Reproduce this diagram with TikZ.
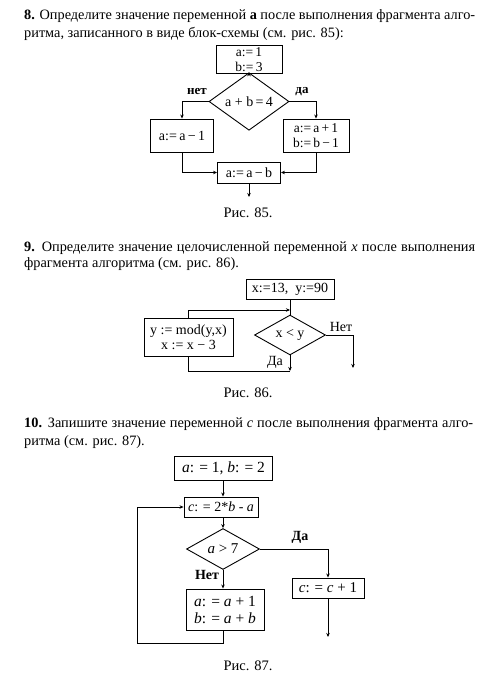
\documentclass[tikz,border=0pt]{standalone}
\usepackage{fontspec}
\setmainfont{Liberation Serif}
\usetikzlibrary{arrows.meta,shapes.geometric}

\tikzset{
	blk/.style={draw, line width=0.9pt, inner sep=0pt, align=center, font=\fontsize{13.5}{14.5}\selectfont},
	cond/.style={draw, diamond, line width=0.9pt, inner sep=0pt, font=\fontsize{14}{14}\selectfont},
	ln/.style={line width=0.9pt},
	arr/.style={line width=0.9pt, -{Stealth[length=4pt,width=3.5pt]}},
	hdr/.style={anchor=base west, inner sep=0pt, font=\fontsize{14.3}{16}\selectfont},
	lbl/.style={inner sep=0pt, font=\fontsize{14}{14}\selectfont},
	capt/.style={inner sep=0pt, font=\fontsize{14.5}{15}\selectfont}
}

\begin{document}
\begin{tikzpicture}[x=1pt, y=-1pt]
		%%%%% START %%%%%
		\useasboundingbox (0,0) rectangle (500,678);
		
		% task 8
		\node[hdr] (h8a) at (24,19) {\makebox[451pt][s]{\textbf{8.} Определите значение переменной \textbf{а} после выполнения фрагмента алго-}};
		\node[hdr] (h8b) at (24,37.5) {ритма, записанного в виде блок-схемы (см. рис. 85):};
		
		\node[blk, minimum width=66pt, minimum height=28pt] (init) at (249,59.5) {a:=\,1\\b:=\,3};
		\node[cond, minimum width=80pt, minimum height=33pt] (test) at (249,101.5) {a + b\,=\,4};
		\node[blk, minimum width=63pt, minimum height=33pt, font=\fontsize{14}{14}\selectfont] (dec) at (182,135.5) {a:=\,a\,−\,1};
		\node[blk, minimum width=66pt, minimum height=33pt] (inc) at (316,135.5) {a:=\,a\,+\,1\\b:=\,b\,−\,1};
		\node[blk, minimum width=63pt, minimum height=21pt, font=\fontsize{14}{14}\selectfont] (res) at (249,172.5) {a:=\,a\,−\,b};
		\coordinate (out8) at (249,197);
		
		\draw[arr] (init) -- (test);
		\draw[arr] (test.west) -| (dec.north);
		\draw[arr] (test.east) -| (inc.north);
		\draw[arr] (dec.south) |- (res.west);
		\draw[arr] (inc.south) |- (res.east);
		\draw[arr] (res.south) -- (out8);
		
		\node[lbl, font=\fontsize{13}{14}\selectfont\bfseries] (no8) at (197,92) {нет};
		\node[lbl, font=\fontsize{13}{14}\selectfont\bfseries] (yes8) at (302,92) {да};
		\node[capt] (cap85) at (248,213) {Рис. 85.};
		
		% task 9
		\node[hdr] (h9a) at (24,251) {\makebox[451pt][s]{\textbf{9.} Определите значение целочисленной переменной \textit{x} после выполнения}};
		\node[hdr] (h9b) at (24,267.5) {фрагмента алгоритма (см. рис. 86).};
		
		\node[blk, minimum width=88pt, minimum height=20pt, font=\fontsize{14}{14}\selectfont] (start) at (290,289) {x:=13,\ \ y:=90};
		\node[cond, minimum width=71pt, minimum height=34pt] (loop) at (290,335) {x < y};
		\node[blk, minimum width=89pt, minimum height=38pt, font=\fontsize{14}{15.5}\selectfont] (body) at (188.5,337) {y := mod(y,x)\\x := x − 3};
		\coordinate (join) at (290,310);
		\coordinate (exit) at (353,368);
		\coordinate (back) at (290,371);
		
		\draw[ln] (start) -- (loop);
		\draw[arr] (body.north) |- (join);
		\draw[arr] (loop.east) -| (exit);
		\draw[arr] (loop.south) -- (back);
		\draw[ln] (body.south) |- (back);
		
		\node[lbl] (no9) at (341,327) {Нет};
		\node[lbl] (yes9) at (275,362) {Да};
		\node[capt] (cap86) at (248,393) {Рис. 86.};
		
		% task 10
		\node[hdr] (h10a) at (24,427) {\makebox[449pt][s]{\textbf{10.} Запишите значение переменной \textit{c} после выполнения фрагмента алго-}};
		\node[hdr] (h10b) at (24,445) {ритма (см. рис. 87).};
		
		\node[blk, minimum width=98pt, minimum height=24pt, font=\fontsize{15.5}{16}\selectfont] (ab) at (223.5,468) {\textit{a}: = 1, \textit{b}: = 2};
		\node[blk, minimum width=74pt, minimum height=20pt, font=\fontsize{14}{16}\selectfont] (calc) at (221,507) {\textit{c}: = 2*\textit{b} - \textit{a}};
		\node[cond, minimum width=73pt, minimum height=34pt, font=\fontsize{15}{16}\selectfont] (gt) at (223,549) {\textit{a} > 7};
		\node[blk, minimum width=78pt, minimum height=41pt, font=\fontsize{15.5}{17}\selectfont] (upd) at (225,609.5) {\textit{a}: = \textit{a} + 1\\\textit{b}: = \textit{a} + \textit{b}};
		\node[blk, minimum width=72pt, minimum height=20pt, font=\fontsize{15}{16}\selectfont] (incc) at (328,588) {\textit{c}: = \textit{c} + 1};
		\coordinate (end10) at (328,637);
		\coordinate (lp) at (137,643);
		
		\draw[arr] (ab.south -| gt.north) -- (calc.north -| gt.north);
		\draw[arr] (calc.south -| gt.north) -- (gt.north);
		\draw[arr] (gt.south) -- (gt.south |- upd.north);
		\draw[arr] (gt.east) -| (incc.north);
		\draw[arr] (incc.south) -- (end10);
		\draw[arr] (upd.south -| gt.south) |- (lp) |- (calc.west);
		
		\node[lbl, font=\fontsize{14}{14}\selectfont\bfseries] (yes10) at (300,537) {Да};
		\node[lbl, font=\fontsize{14}{14}\selectfont\bfseries] (no10) at (207,575) {Нет};
		\node[capt] (cap87) at (248,666) {Рис. 87.};
		
		%%%%% END %%%%%
	\end{tikzpicture}
\end{document}
